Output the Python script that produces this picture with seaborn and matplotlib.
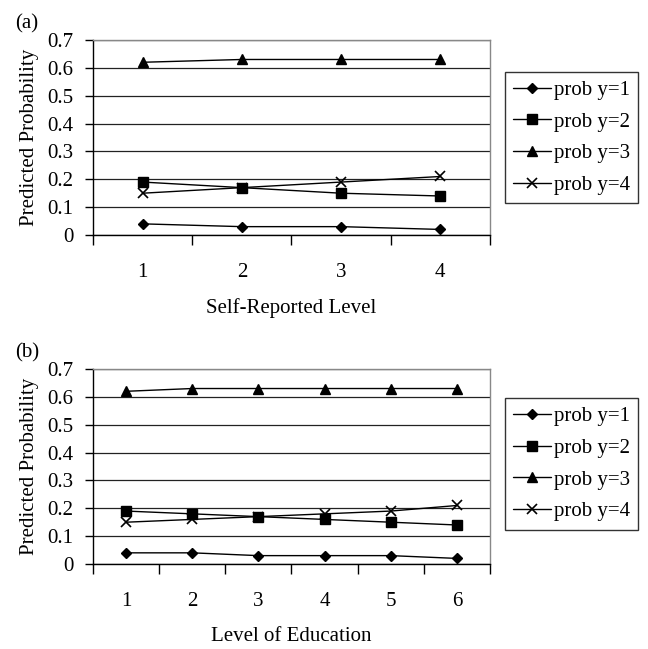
import matplotlib
matplotlib.use("Agg")
import matplotlib.pyplot as plt
import seaborn as sns
import pandas as pd
import numpy as np
from matplotlib.ticker import FixedLocator

sns.set_theme(style="white")
plt.rcParams['font.family'] = ['Liberation Serif', 'DejaVu Serif']

series_names = ["prob y=1", "prob y=2", "prob y=3", "prob y=4"]

levels_a = [1, 2, 3, 4]
a_y1 = [0.04, 0.03, 0.03, 0.02]
a_y2 = [0.19, 0.17, 0.15, 0.14]
a_y3 = [0.62, 0.63, 0.63, 0.63]
a_y4 = [0.15, 0.17, 0.19, 0.21]

levels_b = [1, 2, 3, 4, 5, 6]
b_y1 = [0.04, 0.04, 0.03, 0.03, 0.03, 0.02]
b_y2 = [0.19, 0.18, 0.17, 0.16, 0.15, 0.14]
b_y3 = [0.62, 0.63, 0.63, 0.63, 0.63, 0.63]
b_y4 = [0.15, 0.16, 0.17, 0.18, 0.19, 0.21]

y_ticks = [0, 0.1, 0.2, 0.3, 0.4, 0.5, 0.6, 0.7]
y_ticklabels = ["0", "0.1", "0.2", "0.3", "0.4", "0.5", "0.6", "0.7"]

markers = {"prob y=1": "D", "prob y=2": "s", "prob y=3": "^", "prob y=4": "x"}
sizes = {"prob y=1": 5, "prob y=2": 7, "prob y=3": 7, "prob y=4": 7}

FS = 15

def make_df(levels, ys):
    rows = []
    for name, vals in zip(series_names, ys):
        for lv, v in zip(levels, vals):
            rows.append({"level": lv, "prob": v, "series": name})
    return pd.DataFrame(rows)

fig = plt.figure(figsize=(6.48, 6.49), dpi=100)

def draw(rect, levels, ys, xlabel, tag, legend_rect):
    ax = fig.add_axes(rect)
    df = make_df(levels, ys)
    for name in series_names:
        sub = df[df.series == name]
        sns.lineplot(data=sub, x="level", y="prob", ax=ax, color="black",
                     marker=markers[name], markersize=sizes[name],
                     markeredgecolor="black", markerfacecolor="black",
                     markeredgewidth=1.0 if name != "prob y=4" else 1.2,
                     linewidth=1.0, label=name, legend=False)
    n = len(levels)
    ax.set_xlim(0.5, n + 0.5)
    ax.set_ylim(0, 0.7)
    ax.set_yticks(y_ticks)
    ax.set_yticklabels(y_ticklabels, fontsize=FS)
    ax.set_xticks(levels)
    ax.set_xticklabels([str(l) for l in levels], fontsize=FS)
    ax.xaxis.set_minor_locator(FixedLocator(np.arange(0.5, n + 1, 1.0)))
    ax.tick_params(axis="x", which="major", length=0, pad=20, colors="black")
    ax.tick_params(axis="x", which="minor", length=7, width=1, direction="out",
                   bottom=True, color="black")
    ax.tick_params(axis="y", length=6, width=1, direction="out", left=True,
                   colors="black", pad=8)
    ax.grid(axis="y", color="#222222", linewidth=0.9)
    ax.set_axisbelow(True)
    for s in ["top", "right"]:
        ax.spines[s].set_visible(True)
        ax.spines[s].set_color("#888888")
        ax.spines[s].set_linewidth(1.0)
    for s in ["left", "bottom"]:
        ax.spines[s].set_color("black")
        ax.spines[s].set_linewidth(1.0)
    ax.set_xlabel(xlabel, fontsize=FS, labelpad=12, color="black")
    ax.set_ylabel("Predicted Probability", fontsize=FS, labelpad=6, color="black")
    fig.text(0.023, rect[1] + rect[3] + 0.018, tag, fontsize=FS, color="black")
    handles, labels = ax.get_legend_handles_labels()
    leg = fig.legend(handles, labels, loc="upper left",
                     bbox_to_anchor=legend_rect, fontsize=FS, frameon=True,
                     fancybox=False, edgecolor="black", handlelength=1.8,
                     handletextpad=0.15, labelspacing=0.58, borderpad=0.4,
                     borderaxespad=0)
    leg.get_frame().set_linewidth(1.0)
    for t in leg.get_texts():
        t.set_color("black")
    return ax

draw([0.1435, 0.6379, 0.6126, 0.3005], levels_a, [a_y1, a_y2, a_y3, a_y4],
     "Self-Reported Level", "(a)", (0.779, 0.889))
draw([0.1435, 0.131, 0.6126, 0.3004], levels_b, [b_y1, b_y2, b_y3, b_y4],
     "Level of Education", "(b)", (0.779, 0.386))

fig.savefig("out.png", dpi=100, facecolor="white")
